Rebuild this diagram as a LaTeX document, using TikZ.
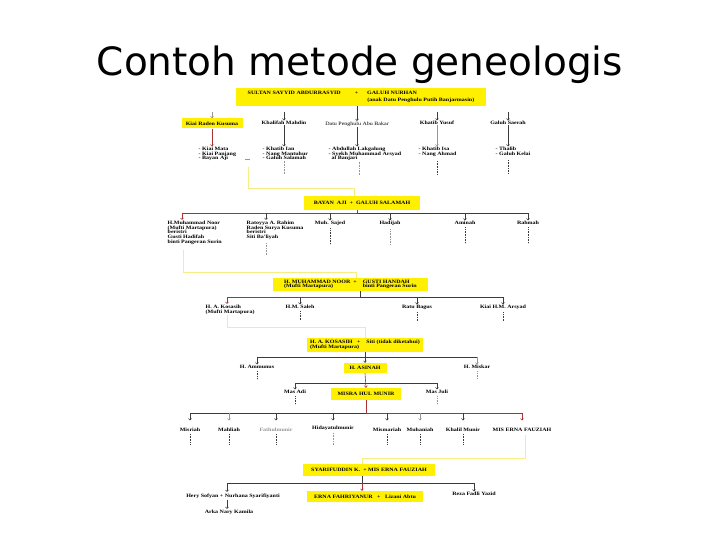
\documentclass[tikz,border=0pt]{standalone}
\usepackage{fontspec}
\usepackage{xcolor}
\usepackage{tikz}
\usetikzlibrary{arrows.meta}

\newfontfamily\kinfont{Liberation Serif}[FakeStretch=1.2]
\newfontfamily\titlefont{DejaVu Sans}
\newcommand\kintext{\kinfont\bfseries\fontsize{5}{4.6}\selectfont}

\begin{document}
\begin{tikzpicture}[x=1pt, y=-1pt]
    % --- GLOBAL DEFINITIONS ---
    \definecolor{kinyellow}{RGB}{255, 240, 0}
    \definecolor{pathyellow}{RGB}{246, 238, 130}
    \definecolor{kinred}{RGB}{170, 50, 50}
    \definecolor{kingray}{RGB}{60, 60, 60}
    \definecolor{faintgray}{RGB}{150, 150, 150}

    \tikzset{
        namebox/.style={fill=kinyellow, inner sep=1pt, font=\kintext, align=center},
        kinname/.style={inner sep=0.5pt, font=\kintext, align=left},
        kinline/.style={line width=0.6pt, draw=kingray},
        redline/.style={line width=0.6pt, draw=kinred},
        kinarrow/.style={-{Straight Barb[length=1.6pt, width=3pt]}, line width=0.6pt, draw=kingray},
        pathline/.style={line width=1pt, draw=pathyellow},
        dotline/.style={densely dotted, line width=0.6pt, draw=kingray},
        titletext/.style={font=\titlefont\fontsize{39}{44}\selectfont, inner sep=0pt}
    }

    \useasboundingbox (0,0) rectangle (720,540);
    \fill[white] (0,0) rectangle (720,540);

    \node[titletext, anchor=base] (title) at (360,76) {Contoh metode geneologis};

    % LEVEL 0
    \node[namebox, minimum width=250, minimum height=18] (sultan) at (361,97)
        {\begin{tabular}{@{}l@{\hspace{14pt}}c@{\hspace{9pt}}l@{}}SULTAN SAYYID ABDURRASYID & + & GALUH NURHAN\\[2pt] & & (anak Datu Penghulu Putih Banjarmasin)\end{tabular}};

    % LEVEL 1
    \node[namebox, minimum width=61, minimum height=10] (kusuma) at (212,123.5) {Kiai Raden Kusuma};
    \node[kinname] (mahdin) at (284,123) {Khalifah Mahdin};
    \node[kinname, font=\kinfont\fontsize{5}{4.6}\selectfont] (abubakar) at (357,124) {Datu Penghulu Abu Bakar};
    \node[kinname] (yusuf) at (437,123) {Khatib Yusuf};
    \node[kinname] (saerah) at (508,123) {Galuh Saerah};

    \coordinate (topin) at (0,112);
    \foreach \c in {mahdin, yusuf, saerah}
        \draw[kinarrow] (\c.north |- topin) -- (\c.north);
    \draw[kinarrow, draw=faintgray] (kusuma.north |- topin) -- (kusuma.north);
    \draw[kinarrow] (sultan.south -| abubakar) -- (abubakar.north);

    \node[kinname, anchor=north west] (kids-kusuma) at (198,146.5) {- Kiai Mata\\- Kiai Panjang\\- Bayan Aji};
    \node[kinname, anchor=north west] (kids-mahdin) at (262,146.5) {- Khatib Ian\\- Nang Mantuhur\\- Galuh Salamah};
    \node[kinname, anchor=north west] (kids-abubakar) at (328,146.5) {- Abdullah Lakgalung\\- Syekh Muhammad Arsyad\\\hspace{3pt}al Banjari};
    \node[kinname, anchor=north west] (kids-yusuf) at (418,146.5) {- Khatib Isa\\- Nang Ahmad};
    \node[kinname, anchor=north west] (kids-saerah) at (495,146.5) {- Thalib\\- Galuh Kelai};

    \draw[kinarrow, draw=kinred] (kusuma.south) -- (kusuma.south |- kids-kusuma.north);
    \draw[kinarrow] (mahdin.south) -- (mahdin.south |- kids-mahdin.north);
    \draw[kinarrow] (abubakar.south) -- (abubakar.south |- kids-abubakar.north);
    \draw[kinarrow, draw=faintgray] (yusuf.south) -- (yusuf.south |- kids-yusuf.north);
    \draw[kinarrow] (saerah.south) -- (saerah.south |- kids-saerah.north);

    \draw[dotline, draw=faintgray] (kids-mahdin.south -| mahdin) -- ++(0,13);
    \draw[dotline, draw=faintgray] ([xshift=2pt]kids-abubakar.south -| abubakar) -- ++(0,13);
    \draw[dotline] ([yshift=-4pt]kids-yusuf.south -| yusuf) -- ++(0,14);
    \draw[dotline] ([yshift=-4pt]kids-saerah.south -| saerah) -- ++(0,14);

    % LEVEL 2
    \node[namebox, minimum width=116, minimum height=14] (bayan) at (362,203) {BAYAN \ AJI \ + \ GALUH SALAMAH};
    \coordinate (busB) at (0,213);

    % path to Bayan Aji
    \coordinate (bayanaji-dash) at (245,159);
    \draw[line width=0.5pt, draw=faintgray] (bayanaji-dash) -- ++(5,0);
    \coordinate (bayanaji-out) at (248,167);
    \draw[pathline] (bayanaji-out) -- ++(0,22) -| ([xshift=-8pt]bayan.north);

    \node[kinname, anchor=north west] (noor) at (167,220.5) {H.Muhammad Noor\\(Mufti Martapura)\\beristri\\Gusti Hadifah\\binti Pangeran Surin};
    \coordinate (noor-in) at (182,220);
    \node[kinname, anchor=north west] (rahim) at (246,220.5) {Ratoyya A. Rahim\\Raden Surya Kusuma\\beristri\\Siti Ba'liyah};
    \coordinate (rahim-in) at (266,220);
    \node[kinname, anchor=north] (sajed) at (330,220.5) {Muh. Sajed};
    \node[kinname, anchor=north] (hadijah) at (390,220.5) {Hadijah};
    \node[kinname, anchor=north] (aminah) at (465,220.5) {Aminah};
    \node[kinname, anchor=north] (rahmah) at (528,220.5) {Rahmah};

    \draw[redline] ([xshift=-5pt]bayan.south) |- (noor-in |- busB);
    \draw[kinline] ([xshift=-5pt]bayan.south |- busB) -- (rahmah.north |- busB);
    \draw[kinarrow, draw=kinred] (noor-in |- busB) -- (noor-in);
    \foreach \c in {rahim-in, sajed.north, hadijah.north, aminah.north, rahmah.north}
        \draw[kinarrow] (\c |- busB) -- (\c);

    \draw[dotline, draw=faintgray] ([yshift=-3pt]rahim.south -| rahim-in) -- ++(0,12);
    \draw[dotline] ([yshift=-2pt]sajed.south) -- ++(0,16);
    \draw[dotline, draw=faintgray] ([yshift=-3pt]hadijah.south) -- ++(0,15);
    \draw[dotline] ([yshift=-2pt]aminah.south) -- ++(0,16);
    \draw[dotline] ([yshift=-2pt]rahmah.south) -- ++(0,16);

    % LEVEL 3
    \node[namebox, minimum width=155, minimum height=13] (noorbox) at (350.5,284.5)
        {\begin{tabular}{@{}l@{\hspace{6pt}}l@{}}H. MUHAMMAD NOOR \ + & GUSTI HANDAH\\(Mufti Martapura) & binti Pangeran Surin\end{tabular}};
    \coordinate (busC) at (0,297);

    % path to H. Muhammad Noor
    \coordinate (noor-out) at (183,250);
    \draw[pathline] (noor-out) -- ++(0,22) -| ([xshift=6pt]noorbox.north);

    \node[kinname, anchor=north west] (kosasih) at (205,304.5) {H. A. Kosasih\\(Mufti Martapura)};
    \coordinate (kosasih-in) at (227,304);
    \node[kinname, anchor=north] (saleh) at (300,304.5) {H.M. Saleh};
    \node[kinname, anchor=north] (bagus) at (417,304.5) {Ratu Bagus};
    \node[kinname, anchor=north] (arsyad) at (503,304.5) {Kiai H.M. Arsyad};

    \draw[kinline] ([xshift=9.5pt]noorbox.south) |- (arsyad.north |- busC);
    \draw[redline] ([xshift=9.5pt]noorbox.south |- busC) -- (kosasih-in |- busC);
    \draw[kinarrow, draw=kinred] (kosasih-in |- busC) -- (kosasih-in);
    \foreach \c in {saleh, bagus, arsyad}
        \draw[kinarrow] (\c.north |- busC) -- (\c.north);

    \draw[dotline] ([yshift=-2pt]saleh.south) -- ++(0,9);
    \draw[dotline] ([yshift=-2pt]bagus.south) -- ++(0,9);
    \draw[dotline] ([yshift=-2pt]arsyad.south) -- ++(0,9);

    % LEVEL 4
    \node[namebox, minimum width=116, minimum height=14] (kosasihbox) at (365,345)
        {\begin{tabular}{@{}l@{\hspace{6pt}}l@{}}H. A. KOSASIH \ \ + & Siti (tidak diketahui)\\(Mufti Martapura) & \end{tabular}};
    \coordinate (busD) at (0,357);

    % path to H. A. Kosasih
    \coordinate (kosasih-out) at (227,315);
    \draw[pathline] (kosasih-out) -- ++(0,12) -| (kosasihbox.north);

    \node[kinname, anchor=north] (ammunus) at (257,364.5) {H. Ammunus};
    \node[namebox, minimum width=43, minimum height=10] (asinah) at (365,368) {H. ASINAH};
    \node[kinname, anchor=north] (miskar) at (477,364.5) {H. Miskar};

    \draw[kinarrow] (kosasihbox.south) -- (asinah.north);
    \draw[kinline] (ammunus.north |- busD) -- (miskar.north |- busD);
    \draw[kinarrow] (ammunus.north |- busD) -- (ammunus.north);
    \draw[kinarrow, draw=faintgray] (miskar.north |- busD) -- (miskar.north);
    \draw[dotline] ([yshift=-2pt]ammunus.south) -- ++(0,8);
    \draw[dotline, draw=faintgray] ([yshift=-2pt]miskar.south) -- ++(0,7);

    % LEVEL 5
    \node[namebox, minimum width=70, minimum height=12] (munir) at (366,394) {MISRA HUL MUNIR};
    \coordinate (busE) at (0,383);
    \node[kinname, anchor=north] (adi) at (295,389.5) {Mas Adi};
    \node[kinname, anchor=north] (juli) at (437,389.5) {Mas Juli};

    \draw[kinarrow, draw=kinred] (asinah.south) -- (munir.north);
    \draw[kinline] (adi.north |- busE) -- (juli.north |- busE);
    \draw[kinarrow] (adi.north |- busE) -- (adi.north);
    \draw[kinarrow] (juli.north |- busE) -- (juli.north);
    \draw[dotline] ([yshift=-2pt]adi.south) -- ++(0,8);
    \draw[dotline, draw=faintgray] ([yshift=-2pt]juli.south) -- ++(0,8);

    % LEVEL 6
    \coordinate (busF) at (0,413);
    \coordinate (kidsF) at (0,420.5);
    \node[kinname, anchor=north] (misriah) at (190,427) {Misriah};
    \node[kinname, anchor=north] (mahliah) at (229,427) {Mahliah};
    \node[kinname, anchor=north, text=faintgray] (fathul) at (276,427) {Fathulmunir};
    \node[kinname, anchor=north] (hidayat) at (333,425) {Hidayatulmunir};
    \node[kinname, anchor=north] (mismariah) at (387,427) {Mismariah};
    \node[kinname, anchor=north] (muhaniah) at (420,427) {Muhaniah};
    \node[kinname, anchor=north] (khalil) at (463,427) {Khalil Munir};
    \node[kinname, anchor=north] (erna) at (522,427) {MIS ERNA FAUZIAH};

    \draw[redline] (munir.south) |- (erna.north |- busF);
    \draw[kinline] (munir.south |- busF) -- (misriah.north |- busF);
    \foreach \c in {misriah, fathul, hidayat, mismariah, khalil}
        \draw[kinarrow] (\c.north |- busF) -- (\c.north |- kidsF);
    \foreach \c in {mahliah, muhaniah}
        \draw[kinarrow, draw=faintgray] (\c.north |- busF) -- (\c.north |- kidsF);
    \draw[kinarrow, draw=kinred] (erna.north |- busF) -- (erna.north |- kidsF);

    \foreach \c in {misriah, mahliah, fathul, mismariah, muhaniah, khalil}
        \draw[dotline] ([yshift=-2pt]\c.south) -- ++(0,10);
    \draw[dotline, draw=faintgray] ([yshift=-2pt]hidayat.south) -- ++(0,12);

    % LEVEL 7
    \node[namebox, minimum width=132, minimum height=12] (syarif) at (369,470) {SYARIFUDDIN K. \ + MIS ERNA FAUZIAH};
    \coordinate (busG) at (0,483);

    % path to Mis Erna Fauziah
    \coordinate (erna-out) at (525,435);
    \draw[pathline] (erna-out) -- ++(0,23) -| ([xshift=-7pt]syarif.north);

    \node[kinname, anchor=north] (hery) at (233,493.5) {Hery Sofyan + Nurhana Syarifiyanti};
    \coordinate (hery-in) at (227,492);
    \node[kinname, anchor=north] (arka) at (229,509) {Arka Nary Kamila};
    \node[namebox, minimum width=116, minimum height=11] (ernabox) at (365,496.5) {ERNA FAHRIYANUR \ \ + \ \ Lizani Abtu};
    \node[kinname, anchor=north] (reza) at (474,491.5) {Reza Fadli Yazid};

    \draw[kinline] ([xshift=-7pt]syarif.south) -- ([xshift=-7pt]syarif.south |- busG);
    \draw[kinline] (hery-in |- busG) -- (reza.north |- busG);
    \draw[kinarrow] (hery-in |- busG) -- (hery-in);
    \draw[kinarrow, draw=kinred] ([xshift=-7pt]syarif.south |- busG) -- ([xshift=-3pt]ernabox.north);
    \draw[kinarrow] (reza.north |- busG) -- (reza.north);
    \draw[kinarrow] (hery-in |- hery.south) -- (hery-in |- arka.north);
\end{tikzpicture}
\end{document}
